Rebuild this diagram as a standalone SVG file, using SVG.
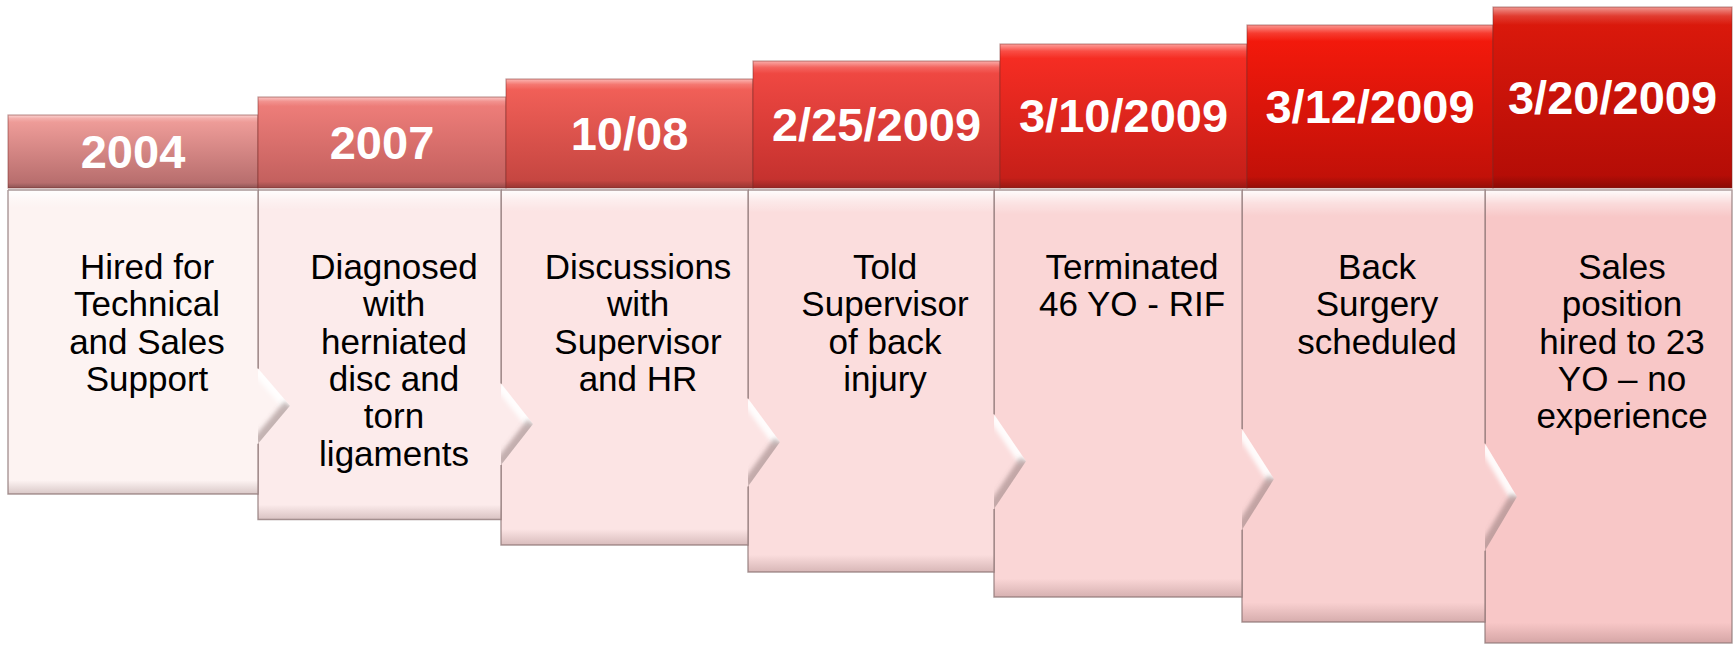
<svg xmlns="http://www.w3.org/2000/svg" width="1733" height="645" viewBox="0 0 1733 645">
  <defs>
    <style>
      .hdr-text { font-family: "Liberation Sans", Arial, sans-serif; font-weight: bold; font-size: 47px; fill: #ffffff; text-anchor: middle; }
      .body-text { font-family: "Liberation Sans", Arial, sans-serif; font-size: 35px; fill: #000000; text-anchor: middle; }
      .hdr-edge { fill: none; stroke: #7a2a28; stroke-opacity: 0.45; stroke-width: 1.2; }
      .body-edge { fill: none; stroke: #8c7474; stroke-opacity: 0.75; stroke-width: 1.4; stroke-linejoin: miter; }
      .hdr-bevel { fill: url(#hdrBevel); }
      .body-bevel { fill: url(#bodyBevel); }
      .chev-hi { fill: none; stroke: #ffffff; stroke-opacity: 0.9; stroke-width: 14; filter: url(#soft); }
      .chev-lo { fill: none; stroke: #7e6464; stroke-opacity: 0.45; stroke-width: 14; filter: url(#soft); }
    </style>
    <filter id="soft" x="-20%" y="-20%" width="140%" height="140%">
      <feGaussianBlur stdDeviation="2.2"/>
    </filter>
    <!-- header base colours, light pink to deep red -->
    <linearGradient id="h1" x1="0" y1="0" x2="0" y2="1"><stop offset="0" stop-color="#F4A19D"/><stop offset="1" stop-color="#B36A6A"/></linearGradient>
    <linearGradient id="h2" x1="0" y1="0" x2="0" y2="1"><stop offset="0" stop-color="#F2807C"/><stop offset="1" stop-color="#C05E5C"/></linearGradient>
    <linearGradient id="h3" x1="0" y1="0" x2="0" y2="1"><stop offset="0" stop-color="#F6625A"/><stop offset="1" stop-color="#C2443F"/></linearGradient>
    <linearGradient id="h4" x1="0" y1="0" x2="0" y2="1"><stop offset="0" stop-color="#F44A44"/><stop offset="1" stop-color="#C2302D"/></linearGradient>
    <linearGradient id="h5" x1="0" y1="0" x2="0" y2="1"><stop offset="0" stop-color="#FB2E24"/><stop offset="1" stop-color="#C21E18"/></linearGradient>
    <linearGradient id="h6" x1="0" y1="0" x2="0" y2="1"><stop offset="0" stop-color="#F81A0C"/><stop offset="1" stop-color="#BE1008"/></linearGradient>
    <linearGradient id="h7" x1="0" y1="0" x2="0" y2="1"><stop offset="0" stop-color="#DE1A0C"/><stop offset="1" stop-color="#B20C06"/></linearGradient>
    <!-- bevel overlays -->
    <linearGradient id="hdrBevel" x1="0" y1="0" x2="0" y2="1">
      <stop offset="0" stop-color="#ffffff" stop-opacity="0.55"/>
      <stop offset="0.05" stop-color="#ffffff" stop-opacity="0.15"/>
      <stop offset="0.1" stop-color="#ffffff" stop-opacity="0"/>
      <stop offset="0.93" stop-color="#000000" stop-opacity="0"/>
      <stop offset="1" stop-color="#000000" stop-opacity="0.22"/>
    </linearGradient>
    <linearGradient id="bodyBevel" x1="0" y1="0" x2="0" y2="1">
      <stop offset="0" stop-color="#ffffff" stop-opacity="0.95"/>
      <stop offset="0.03" stop-color="#ffffff" stop-opacity="0.35"/>
      <stop offset="0.06" stop-color="#ffffff" stop-opacity="0"/>
      <stop offset="0.955" stop-color="#5a3030" stop-opacity="0"/>
      <stop offset="1" stop-color="#5a3030" stop-opacity="0.22"/>
    </linearGradient>
    <!-- pointer triangles, used to keep the pointer bevels inside -->
    <clipPath id="cp1"><path d="M258 368.4 L290 405.8 L258 443.8 Z"/></clipPath>
    <clipPath id="cp2"><path d="M501 383.4 L533 423.9 L501 465.1 Z"/></clipPath>
    <clipPath id="cp3"><path d="M748 398.4 L780 442.1 L748 486.4 Z"/></clipPath>
    <clipPath id="cp4"><path d="M994 414.2 L1026 461.2 L994 509 Z"/></clipPath>
    <clipPath id="cp5"><path d="M1242 428.9 L1274 479 L1242 529.8 Z"/></clipPath>
    <clipPath id="cp6"><path d="M1485 443.6 L1517 496.7 L1485 550.7 Z"/></clipPath>
  </defs>

  <rect x="0" y="0" width="1733" height="645" fill="#ffffff"/>

  <!-- event bodies, drawn right to left so each pointer sits on its neighbour -->
  <g id="body-7">
    <rect x="1485" y="190" width="247" height="453" fill="#F8C7C7"/>
    <rect class="body-bevel" x="1485" y="190" width="247" height="453"/>
    <rect class="body-edge" x="1485" y="190" width="247" height="453"/>
    <text class="body-text"><tspan x="1622" y="279">Sales</tspan><tspan x="1622" y="316.3">position</tspan><tspan x="1622" y="353.6">hired to 23</tspan><tspan x="1622" y="390.9">YO – no</tspan><tspan x="1622" y="428.2">experience</tspan></text>
  </g>
  <g id="body-6">
    <path d="M1242 190 H1485 V443.6 L1517 496.7 L1485 550.7 V622 H1242 Z" fill="#F9D0D0"/>
    <path class="body-bevel" d="M1242 190 H1485 V443.6 L1517 496.7 L1485 550.7 V622 H1242 Z"/>
    <g clip-path="url(#cp6)">
      <path class="chev-hi" d="M1485 443.6 L1517 496.7"/>
      <path class="chev-lo" d="M1517 496.7 L1485 550.7"/>
    </g>
    <path class="body-edge" d="M1242 190 H1485 V443.6 M1485 550.7 V622 H1242 V190"/>
    <text class="body-text"><tspan x="1377" y="279">Back</tspan><tspan x="1377" y="316.3">Surgery</tspan><tspan x="1377" y="353.6">scheduled</tspan></text>
  </g>
  <g id="body-5">
    <path d="M994 190 H1242 V428.9 L1274 479 L1242 529.8 V597 H994 Z" fill="#FAD6D6"/>
    <path class="body-bevel" d="M994 190 H1242 V428.9 L1274 479 L1242 529.8 V597 H994 Z"/>
    <g clip-path="url(#cp5)">
      <path class="chev-hi" d="M1242 428.9 L1274 479"/>
      <path class="chev-lo" d="M1274 479 L1242 529.8"/>
    </g>
    <path class="body-edge" d="M994 190 H1242 V428.9 M1242 529.8 V597 H994 V190"/>
    <text class="body-text"><tspan x="1132" y="279">Terminated</tspan><tspan x="1132" y="316.3">46 YO - RIF</tspan></text>
  </g>
  <g id="body-4">
    <path d="M748 190 H994 V414.2 L1026 461.2 L994 509 V572 H748 Z" fill="#FBDDDD"/>
    <path class="body-bevel" d="M748 190 H994 V414.2 L1026 461.2 L994 509 V572 H748 Z"/>
    <g clip-path="url(#cp4)">
      <path class="chev-hi" d="M994 414.2 L1026 461.2"/>
      <path class="chev-lo" d="M1026 461.2 L994 509"/>
    </g>
    <path class="body-edge" d="M748 190 H994 V414.2 M994 509 V572 H748 V190"/>
    <text class="body-text"><tspan x="885" y="279">Told</tspan><tspan x="885" y="316.3">Supervisor</tspan><tspan x="885" y="353.6">of back</tspan><tspan x="885" y="390.9">injury</tspan></text>
  </g>
  <g id="body-3">
    <path d="M501 190 H748 V398.4 L780 442.1 L748 486.4 V545 H501 Z" fill="#FCE4E4"/>
    <path class="body-bevel" d="M501 190 H748 V398.4 L780 442.1 L748 486.4 V545 H501 Z"/>
    <g clip-path="url(#cp3)">
      <path class="chev-hi" d="M748 398.4 L780 442.1"/>
      <path class="chev-lo" d="M780 442.1 L748 486.4"/>
    </g>
    <path class="body-edge" d="M501 190 H748 V398.4 M748 486.4 V545 H501 V190"/>
    <text class="body-text"><tspan x="638" y="279">Discussions</tspan><tspan x="638" y="316.3">with</tspan><tspan x="638" y="353.6">Supervisor</tspan><tspan x="638" y="390.9">and HR</tspan></text>
  </g>
  <g id="body-2">
    <path d="M258 190 H501 V383.4 L533 423.9 L501 465.1 V519.5 H258 Z" fill="#FCEBEB"/>
    <path class="body-bevel" d="M258 190 H501 V383.4 L533 423.9 L501 465.1 V519.5 H258 Z"/>
    <g clip-path="url(#cp2)">
      <path class="chev-hi" d="M501 383.4 L533 423.9"/>
      <path class="chev-lo" d="M533 423.9 L501 465.1"/>
    </g>
    <path class="body-edge" d="M258 190 H501 V383.4 M501 465.1 V519.5 H258 V190"/>
    <text class="body-text"><tspan x="394" y="279">Diagnosed</tspan><tspan x="394" y="316.3">with</tspan><tspan x="394" y="353.6">herniated</tspan><tspan x="394" y="390.9">disc and</tspan><tspan x="394" y="428.2">torn</tspan><tspan x="394" y="465.5">ligaments</tspan></text>
  </g>
  <g id="body-1">
    <path d="M8 190 H258 V368.4 L290 405.8 L258 443.8 V494 H8 Z" fill="#FDF3F2"/>
    <path class="body-bevel" d="M8 190 H258 V368.4 L290 405.8 L258 443.8 V494 H8 Z"/>
    <g clip-path="url(#cp1)">
      <path class="chev-hi" d="M258 368.4 L290 405.8"/>
      <path class="chev-lo" d="M290 405.8 L258 443.8"/>
    </g>
    <path class="body-edge" d="M8 190 H258 V368.4 M258 443.8 V494 H8 V190"/>
    <text class="body-text"><tspan x="147" y="279">Hired for</tspan><tspan x="147" y="316.3">Technical</tspan><tspan x="147" y="353.6">and Sales</tspan><tspan x="147" y="390.9">Support</tspan></text>
  </g>

  <!-- date headers, stepping up to the right -->
  <g id="header-1">
    <rect x="8" y="115" width="250" height="73" fill="url(#h1)"/>
    <rect class="hdr-bevel" x="8" y="115" width="250" height="73"/>
    <rect class="hdr-edge" x="8" y="115" width="250" height="73"/>
    <text class="hdr-text" x="133" y="167.5">2004</text>
  </g>
  <g id="header-2">
    <rect x="258" y="97" width="248" height="91" fill="url(#h2)"/>
    <rect class="hdr-bevel" x="258" y="97" width="248" height="91"/>
    <rect class="hdr-edge" x="258" y="97" width="248" height="91"/>
    <text class="hdr-text" x="382" y="158.5">2007</text>
  </g>
  <g id="header-3">
    <rect x="506" y="79" width="247" height="109" fill="url(#h3)"/>
    <rect class="hdr-bevel" x="506" y="79" width="247" height="109"/>
    <rect class="hdr-edge" x="506" y="79" width="247" height="109"/>
    <text class="hdr-text" x="629.5" y="149.5">10/08</text>
  </g>
  <g id="header-4">
    <rect x="753" y="61" width="247" height="127" fill="url(#h4)"/>
    <rect class="hdr-bevel" x="753" y="61" width="247" height="127"/>
    <rect class="hdr-edge" x="753" y="61" width="247" height="127"/>
    <text class="hdr-text" x="876.5" y="140.5">2/25/2009</text>
  </g>
  <g id="header-5">
    <rect x="1000" y="44" width="247" height="144" fill="url(#h5)"/>
    <rect class="hdr-bevel" x="1000" y="44" width="247" height="144"/>
    <rect class="hdr-edge" x="1000" y="44" width="247" height="144"/>
    <text class="hdr-text" x="1123.5" y="132">3/10/2009</text>
  </g>
  <g id="header-6">
    <rect x="1247" y="25" width="246" height="163" fill="url(#h6)"/>
    <rect class="hdr-bevel" x="1247" y="25" width="246" height="163"/>
    <rect class="hdr-edge" x="1247" y="25" width="246" height="163"/>
    <text class="hdr-text" x="1370" y="122.5">3/12/2009</text>
  </g>
  <g id="header-7">
    <rect x="1493" y="7" width="239" height="181" fill="url(#h7)"/>
    <rect class="hdr-bevel" x="1493" y="7" width="239" height="181"/>
    <rect class="hdr-edge" x="1493" y="7" width="239" height="181"/>
    <text class="hdr-text" x="1612.5" y="113.5">3/20/2009</text>
  </g>

  <!-- no separate connectors: the pointers are part of each body shape -->
  <g id="connectors"/>
</svg>
